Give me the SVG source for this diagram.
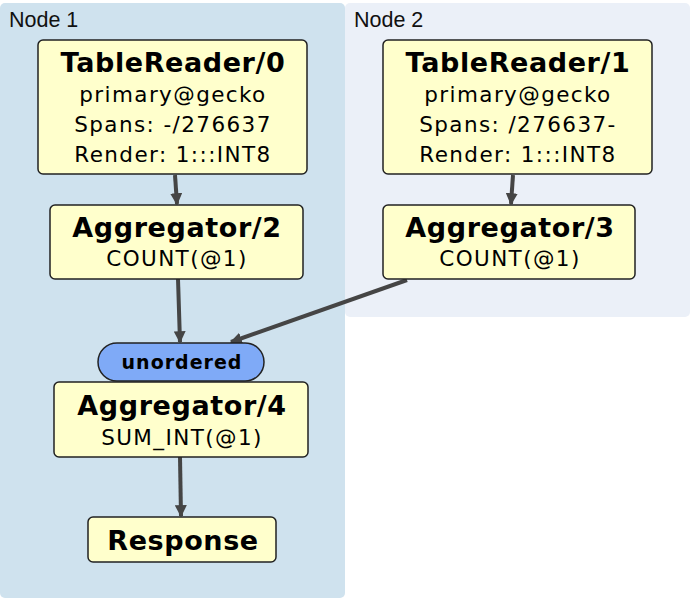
<svg xmlns="http://www.w3.org/2000/svg" width="691" height="602" viewBox="0 0 691 602">
<defs>
<style>
.c1{fill:#cfe2ee}
.c2{fill:#ebf0f8}
.cl{font-family:"Liberation Sans",Arial,sans-serif;font-size:21.5px;fill:#111}
.n{fill:#ffffcc;stroke:#222;stroke-width:1.5}
.t{font-family:"DejaVu Sans",Verdana,sans-serif;text-anchor:middle;fill:#000}
.b{font-weight:bold;font-size:27px;letter-spacing:0.6px}
.r{font-size:21.5px;letter-spacing:1.4px}
.e{stroke:#454545;stroke-width:4;fill:none;marker-end:url(#ah)}
</style>
<marker id="ah" viewBox="0 0 10 10" refX="9" refY="5" markerWidth="3" markerHeight="3" orient="auto" markerUnits="strokeWidth">
<path d="M0,0 L10,5 L0,10 z" fill="#454545"/>
</marker>
</defs>
<rect width="691" height="602" fill="#fff"/>
<g id="cluster1"><rect class="c1" x="0" y="3" width="345" height="595" rx="5"/><text class="cl" x="9" y="27">Node 1</text></g>
<g id="cluster2"><rect class="c2" x="345" y="3" width="345" height="314" rx="5"/><text class="cl" x="354" y="27">Node 2</text></g>
<g id="edges">
<path class="e" d="M175,175 L177,204"/>
<path class="e" d="M513,175 L511,204"/>
<path class="e" d="M178,279 L180,342"/>
<path class="e" d="M407,280 L231,342"/>
<path class="e" d="M180,457 L181,516"/>
</g>
<g id="tr0"><rect class="n" x="38" y="40" width="269" height="134" rx="5"/>
<text class="t b" x="173" y="72">TableReader/0</text>
<text class="t r" x="173" y="102">primary@gecko</text>
<text class="t r" x="173" y="132">Spans: -/276637</text>
<text class="t r" x="173" y="162">Render: 1:::INT8</text></g>
<g id="tr1"><rect class="n" x="383" y="40" width="269" height="134" rx="5"/>
<text class="t b" x="518" y="72">TableReader/1</text>
<text class="t r" x="518" y="102">primary@gecko</text>
<text class="t r" x="518" y="132">Spans: /276637-</text>
<text class="t r" x="518" y="162">Render: 1:::INT8</text></g>
<g id="agg2"><rect class="n" x="50" y="205" width="253" height="74" rx="5"/>
<text class="t b" x="177" y="237">Aggregator/2</text>
<text class="t r" x="177" y="266">COUNT(@1)</text></g>
<g id="agg3"><rect class="n" x="383" y="205" width="252" height="74" rx="5"/>
<text class="t b" x="510" y="237">Aggregator/3</text>
<text class="t r" x="510" y="266">COUNT(@1)</text></g>
<g id="unordered"><rect x="98" y="343" width="166" height="38" rx="19" fill="#7faaf7" stroke="#222" stroke-width="1.5"/>
<text class="t" x="182" y="369" font-weight="bold" font-size="19" letter-spacing="1">unordered</text></g>
<g id="agg4"><rect class="n" x="54" y="382" width="254" height="75" rx="5"/>
<text class="t b" x="182" y="415">Aggregator/4</text>
<text class="t r" x="182" y="445">SUM_INT(@1)</text></g>
<g id="response"><rect class="n" x="88" y="517" width="188" height="45" rx="5"/>
<text class="t b" x="183" y="550">Response</text></g>
</svg>
